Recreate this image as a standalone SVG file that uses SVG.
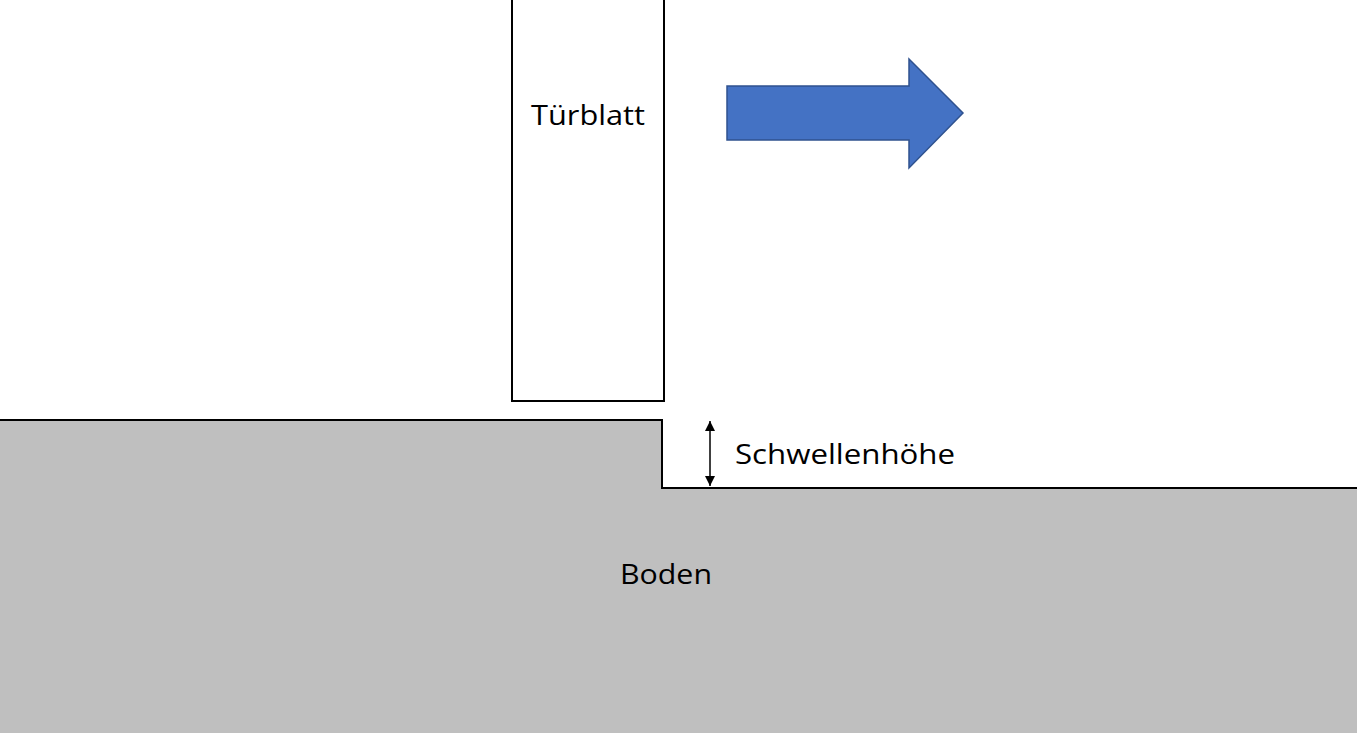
<svg xmlns="http://www.w3.org/2000/svg" width="1357" height="733" viewBox="0 0 1357 733">
<style>
.lbl{font-family:"Open Sans","Liberation Sans",sans-serif;font-size:28px;fill:#000}
</style>
<defs>
<marker id="ah" viewBox="0 0 10 10" refX="10" refY="5" markerWidth="10" markerHeight="10" markerUnits="userSpaceOnUse" orient="auto-start-reverse">
<path d="M0,0 L10,5 L0,10 Z" fill="#000"/>
</marker>
</defs>
<rect width="1357" height="733" fill="#fff"/>
<g id="boden">
<path d="M-2,420 L662,420 L662,488 L1359,488 L1359,735 L-2,735 Z" fill="#bfbfbf" stroke="#000" stroke-width="2"/>
<text class="lbl" x="666" y="584" text-anchor="middle" textLength="92" lengthAdjust="spacingAndGlyphs">Boden</text>
</g>
<g id="tuerblatt">
<rect x="512" y="-5" width="152" height="406" fill="#fff" stroke="#000" stroke-width="2"/>
<text class="lbl" x="588" y="125" text-anchor="middle" textLength="114" lengthAdjust="spacingAndGlyphs">Türblatt</text>
</g>
<g id="pfeil">
<path d="M727,86 L909,86 L909,59 L963,113 L909,168 L909,140 L727,140 Z" fill="#4472c4" stroke="#2f528f" stroke-width="1.5"/>
</g>
<g id="connectors">
<line x1="710" y1="421" x2="710" y2="486" stroke="#000" stroke-width="1.5" marker-start="url(#ah)" marker-end="url(#ah)"/>
</g>
<g id="schwelle">
<text class="lbl" x="735" y="464" textLength="220" lengthAdjust="spacingAndGlyphs">Schwellenhöhe</text>
</g>
</svg>
